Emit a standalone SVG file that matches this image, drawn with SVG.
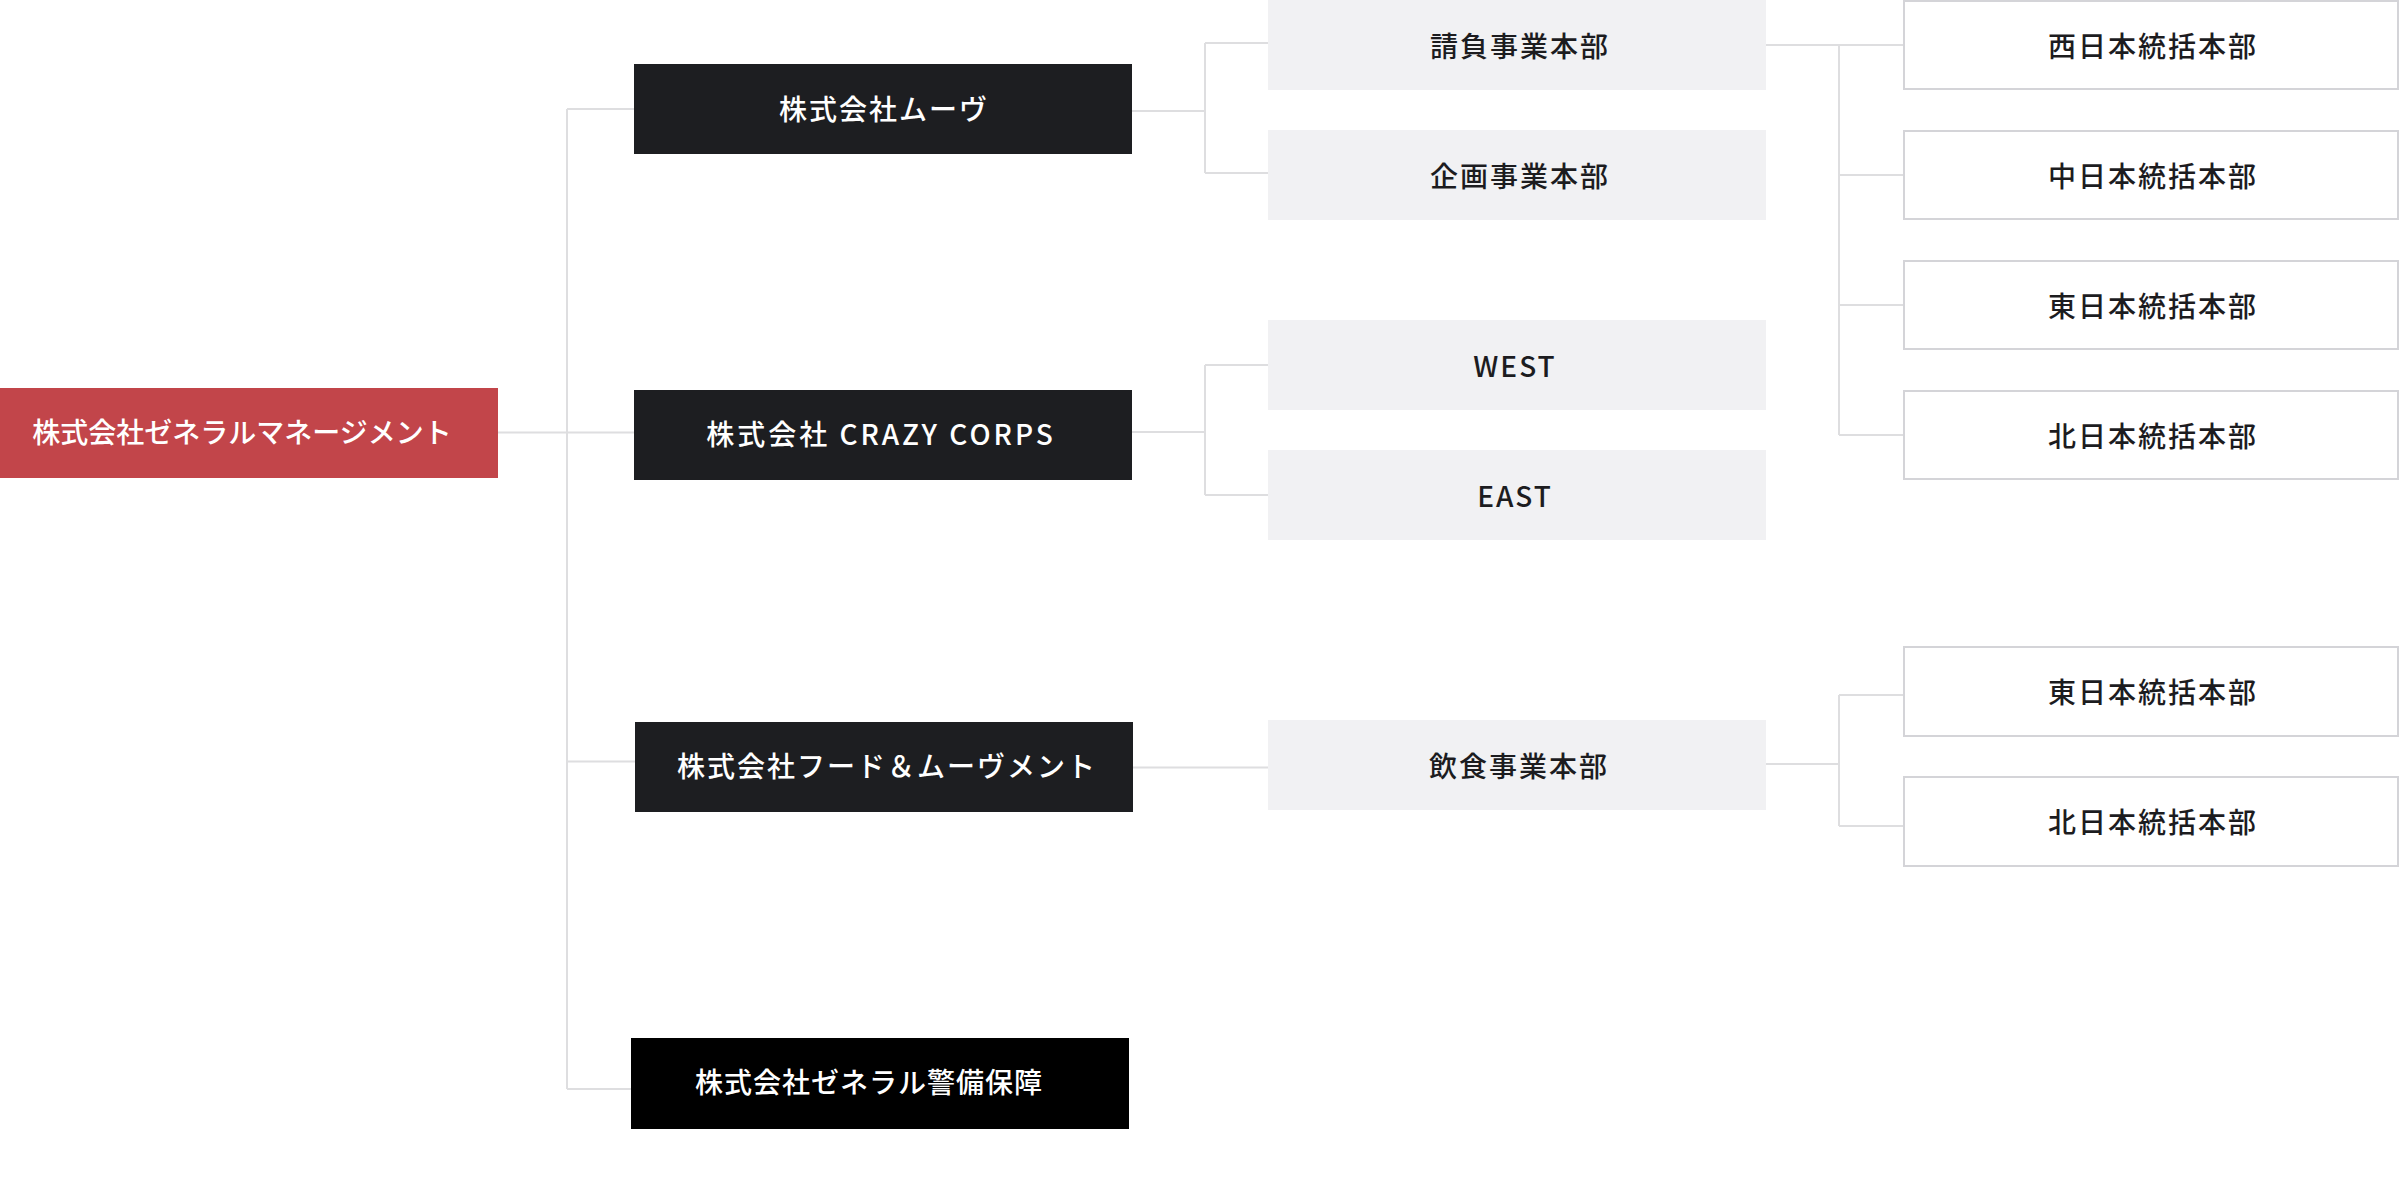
<svg xmlns="http://www.w3.org/2000/svg" width="2400" height="1197" viewBox="0 0 2400 1197">
<style>
.ln{stroke:#dedee0;stroke-width:2;fill:none}
.t{font-family:"Noto Sans CJK JP","Noto Sans",sans-serif;font-size:28px;letter-spacing:2px;text-anchor:middle;dominant-baseline:central;font-weight:500}
.tw{fill:#ffffff}
.td{fill:#1c1c1f}
.dark{fill:#1d1e21}
.gray{fill:#f1f1f3}
.wbox{fill:#ffffff;stroke:#d4d4d8;stroke-width:2}
</style>
<rect width="2400" height="1197" fill="#ffffff"/>
<g id="connectors">
<path class="ln" d="M567 109V1089"/>
<path class="ln" d="M498 432.5H634"/>
<path class="ln" d="M567 109H634"/>
<path class="ln" d="M567 761.5H635"/>
<path class="ln" d="M567 1089H631"/>
<path class="ln" d="M1132 111H1205M1205 43V173M1205 43H1268M1205 173H1268"/>
<path class="ln" d="M1132 432H1205M1205 365V495M1205 365H1268M1205 495H1268"/>
<path class="ln" d="M1133 767.5H1268"/>
<path class="ln" d="M1766 45H1903M1839 45V435M1839 175H1903M1839 305H1903M1839 435H1903"/>
<path class="ln" d="M1766 764H1839M1839 695V826M1839 695H1903M1839 826H1903"/>
</g>
<g id="n-gm"><rect x="0" y="388" width="498" height="90" fill="#c2454a"/><text class="t tw" x="242" y="431" style="letter-spacing:0px">株式会社ゼネラルマネージメント</text></g>
<g id="n-move"><rect class="dark" x="634" y="64" width="498" height="90"/><text class="t tw" x="884" y="108">株式会社ムーヴ</text></g>
<g id="n-crazy"><rect class="dark" x="634" y="390" width="498" height="90"/><text class="t tw" x="881" y="433" style="letter-spacing:3px">株式会社 CRAZY CORPS</text></g>
<g id="n-food"><rect class="dark" x="635" y="722" width="498" height="90"/><text class="t tw" x="887" y="765">株式会社フード＆ムーヴメント</text></g>
<g id="n-keibi"><rect x="631" y="1038" width="498" height="91" fill="#000000"/><text class="t tw" x="869" y="1081" style="letter-spacing:1px">株式会社ゼネラル警備保障</text></g>
<g id="n-ukeoi"><rect class="gray" x="1268" y="0" width="498" height="90"/><text class="t td" x="1520" y="45">請負事業本部</text></g>
<g id="n-kikaku"><rect class="gray" x="1268" y="130" width="498" height="90"/><text class="t td" x="1520" y="175">企画事業本部</text></g>
<g id="n-west"><rect class="gray" x="1268" y="320" width="498" height="90"/><text class="t td" x="1515" y="365">WEST</text></g>
<g id="n-east"><rect class="gray" x="1268" y="450" width="498" height="90"/><text class="t td" x="1515" y="495">EAST</text></g>
<g id="n-inshoku"><rect class="gray" x="1268" y="720" width="498" height="90"/><text class="t td" x="1519" y="765">飲食事業本部</text></g>
<g id="n-nishi"><rect class="wbox" x="1904" y="1" width="494" height="88"/><text class="t td" x="2153" y="45">西日本統括本部</text></g>
<g id="n-naka"><rect class="wbox" x="1904" y="131" width="494" height="88"/><text class="t td" x="2153" y="175">中日本統括本部</text></g>
<g id="n-higashi1"><rect class="wbox" x="1904" y="261" width="494" height="88"/><text class="t td" x="2153" y="305">東日本統括本部</text></g>
<g id="n-kita1"><rect class="wbox" x="1904" y="391" width="494" height="88"/><text class="t td" x="2153" y="435">北日本統括本部</text></g>
<g id="n-higashi2"><rect class="wbox" x="1904" y="647" width="494" height="89"/><text class="t td" x="2153" y="691">東日本統括本部</text></g>
<g id="n-kita2"><rect class="wbox" x="1904" y="777" width="494" height="89"/><text class="t td" x="2153" y="821">北日本統括本部</text></g>
</svg>
